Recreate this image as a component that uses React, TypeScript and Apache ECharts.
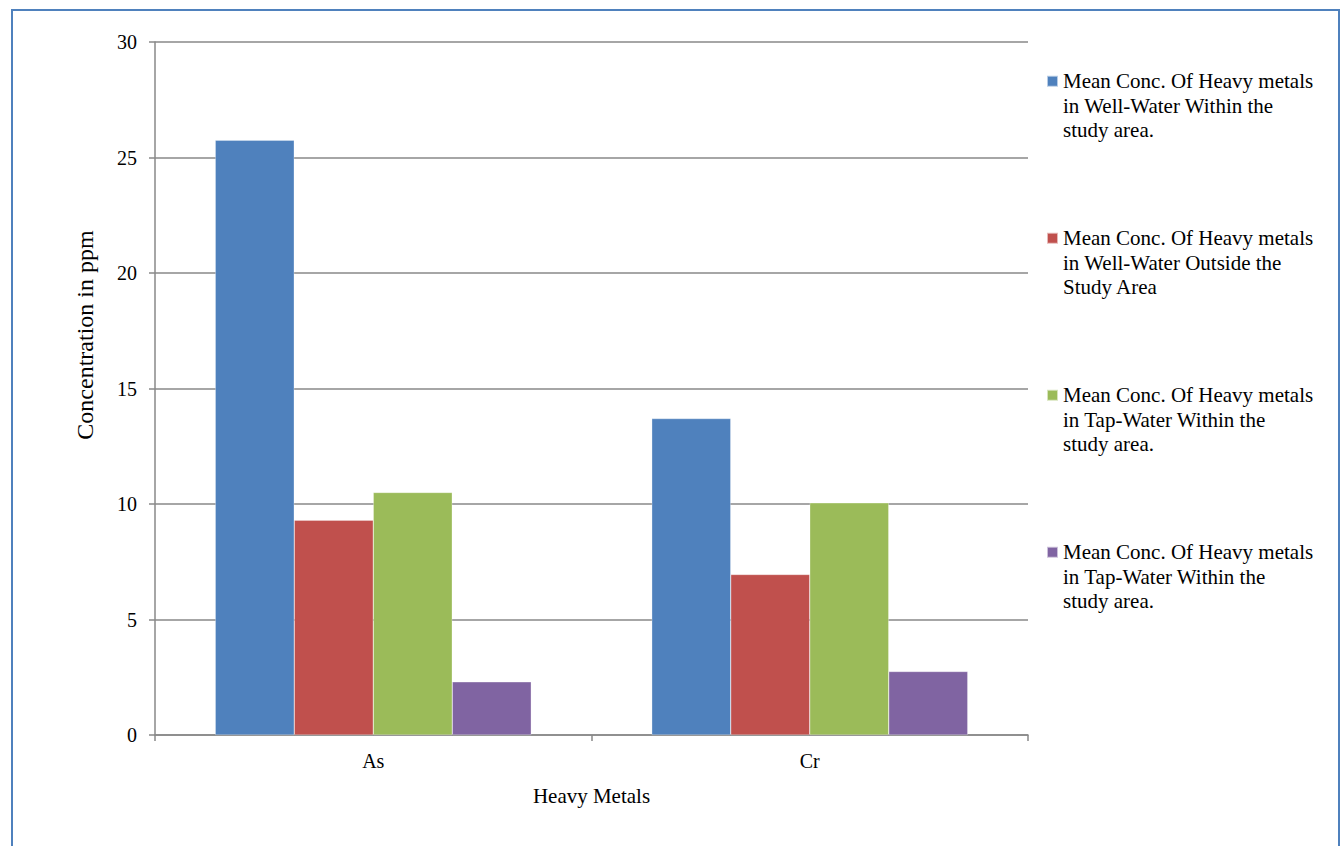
import React, { useEffect, useRef } from "react";
import * as echarts from "echarts";

const categories = ["As", "Cr"];
const seriesNames = [
  "Mean Conc. Of Heavy metals\nin Well-Water Within the\nstudy area.",
  "Mean Conc. Of Heavy metals\nin Well-Water Outside the\nStudy Area",
  "Mean Conc. Of Heavy metals\nin Tap-Water Within the\nstudy area.",
  "Mean Conc. Of Heavy metals\nin Tap-Water Within the\nstudy area. ",
];
const wellWithin = [25.75, 13.7];
const wellOutside = [9.3, 6.95];
const tapWithin = [10.5, 10.05];
const tapWithin2 = [2.3, 2.75];
const colors = ["#4F81BD", "#C0504D", "#9BBB59", "#8064A2"];
const yTicks = { min: 0, max: 30, interval: 5 };

const FONT = "Liberation Serif";

export default function App() {
  const ref = useRef<HTMLDivElement>(null);
  useEffect(() => {
    if (!ref.current) return;
    const chart = echarts.init(ref.current, undefined, { renderer: "svg" });
    const data = [wellWithin, wellOutside, tapWithin, tapWithin2];
    chart.setOption({
      animation: false,
      backgroundColor: "#ffffff",
      textStyle: { fontFamily: FONT },
      graphic: [
        {
          type: "rect",
          shape: { x: 12, y: 10, width: 1327, height: 900 },
          style: { fill: "none", stroke: "#4F81BD", lineWidth: 2 },
          silent: true,
        },
      ],
      grid: { left: 155, right: 315, top: 42, bottom: 111, containLabel: false },
      legend: {
        orient: "vertical",
        left: 1046,
        top: 20,
        itemWidth: 11,
        itemHeight: 11,
        itemGap: 34.5,
        icon: "rect",
        padding: 0,
        data: seriesNames,
        formatter: (name: string) => "\n\n" + name.trim(),
        textStyle: {
          fontFamily: FONT,
          fontSize: 21,
          color: "#000",
          lineHeight: 24.5,
        },
      },
      xAxis: {
        type: "category",
        data: categories,
        name: "Heavy Metals",
        nameLocation: "middle",
        nameGap: 50,
        nameTextStyle: { fontFamily: FONT, fontSize: 21, color: "#000" },
        axisLine: { lineStyle: { color: "#888888", width: 1.5 } },
        axisTick: { show: true, length: 6, lineStyle: { color: "#888888", width: 1.5 } },
        axisLabel: { fontFamily: FONT, fontSize: 20, color: "#000", margin: 16 },
      },
      yAxis: {
        type: "value",
        min: yTicks.min,
        max: yTicks.max,
        interval: yTicks.interval,
        name: "Concentration in ppm",
        nameLocation: "middle",
        nameGap: 58,
        nameRotate: 90,
        nameTextStyle: {
          fontFamily: FONT,
          fontSize: 24,
          color: "#000",
          padding: [0, 0, 0, 107],
        },
        axisLine: { show: true, lineStyle: { color: "#888888", width: 1.5 } },
        axisTick: { show: true, length: 6, lineStyle: { color: "#888888", width: 1.5 } },
        axisLabel: { fontFamily: FONT, fontSize: 20, color: "#000", margin: 18 },
        splitLine: { lineStyle: { color: "#888888", width: 1.5 } },
      },
      series: seriesNames.map((name, i) => ({
        name,
        type: "bar",
        data: data[i],
        barGap: "0%",
        barCategoryGap: "27.6%",
        itemStyle: { color: colors[i], borderColor: "rgba(255,255,255,0.6)", borderWidth: 0.5 },
      })),
    });
    return () => chart.dispose();
  }, []);
  return (
    <div
      ref={ref}
      style={{ position: "fixed", left: 0, top: 0, width: 1343, height: 846 }}
    />
  );
}
